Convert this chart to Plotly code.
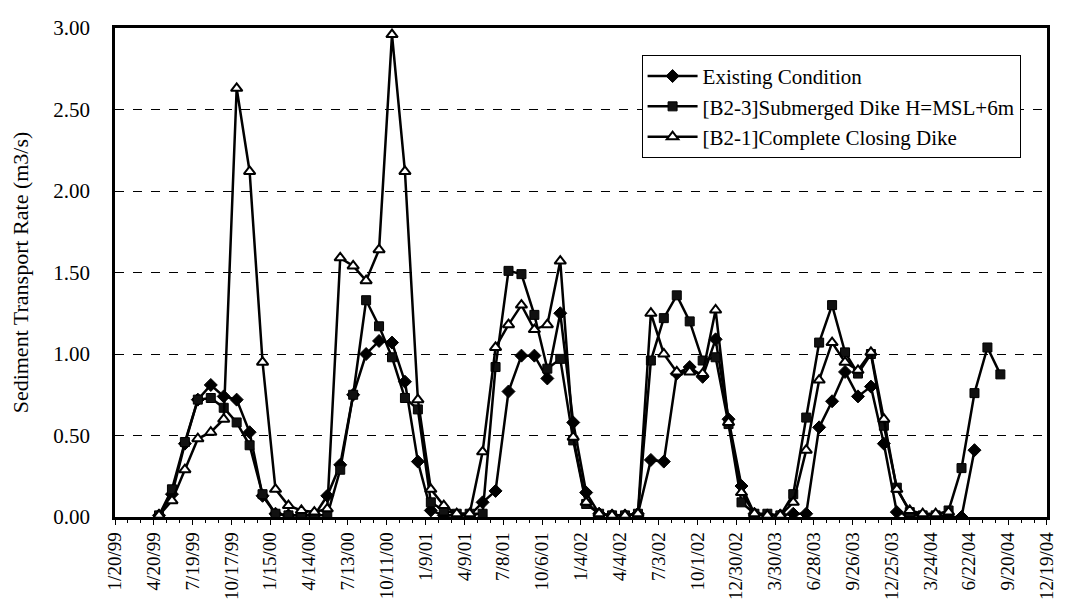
import pandas as pd
import plotly.graph_objects as go

# sample dates: every 30 days starting early May 1999
start_date = "1999-05-02"
n_points = 66
dates = pd.date_range(start_date, periods=n_points, freq="30D")

existing = [0.01, 0.14, 0.45, 0.72, 0.81, 0.74, 0.72, 0.52, 0.13, 0.02,
            0.01, 0.01, 0.01, 0.13, 0.32, 0.75, 1.00, 1.08, 1.07, 0.83,
            0.34, 0.04, 0.01, 0.01, 0.01, 0.09, 0.16, 0.77, 0.99, 0.99,
            0.85, 1.25, 0.58, 0.15, 0.02, 0.01, 0.01, 0.02, 0.35, 0.34,
            0.88, 0.92, 0.86, 1.09, 0.60, 0.19, 0.02, 0.01, 0.01, 0.02,
            0.02, 0.55, 0.71, 0.89, 0.74, 0.80, 0.45, 0.03, 0.01, 0.01,
            0.01, 0.00, 0.00, 0.41]

b2_3 = [0.01, 0.17, 0.46, 0.72, 0.73, 0.67, 0.58, 0.44, 0.14, 0.02,
        0.01, 0.01, 0.01, 0.01, 0.29, 0.75, 1.33, 1.17, 0.98, 0.73,
        0.66, 0.09, 0.04, 0.02, 0.02, 0.02, 0.92, 1.51, 1.49, 1.24,
        0.91, 0.97, 0.47, 0.08, 0.02, 0.01, 0.01, 0.02, 0.96, 1.22,
        1.36, 1.20, 0.96, 0.98, 0.57, 0.09, 0.02, 0.02, 0.01, 0.14,
        0.61, 1.07, 1.30, 1.01, 0.88, 1.00, 0.56, 0.18, 0.03, 0.01,
        0.01, 0.04, 0.30, 0.76, 1.04, 0.875]

b2_1 = [0.01, 0.10, 0.29, 0.48, 0.52, 0.60, 2.63, 2.12, 0.95, 0.17,
        0.07, 0.04, 0.03, 0.05, 1.59, 1.54, 1.45, 1.64, 2.96, 2.12,
        0.72, 0.17, 0.07, 0.02, 0.02, 0.40, 1.04, 1.18, 1.30, 1.15,
        1.18, 1.57, 0.49, 0.09, 0.02, 0.01, 0.01, 0.02, 1.25, 1.00,
        0.89, 0.89, 0.88, 1.27, 0.58, 0.15, 0.02, 0.01, 0.01, 0.09,
        0.41, 0.84, 1.07, 0.95, 0.90, 1.01, 0.60, 0.17, 0.04, 0.02,
        0.02, 0.03]

names = ["Existing Condition",
         "[B2-3]Submerged Dike H=MSL+6m",
         "[B2-1]Complete Closing Dike"]

tick_dates = pd.date_range("1999-01-20", periods=25, freq="90D")
tick_labels = ["1/20/99", "4/20/99", "7/19/99", "10/17/99", "1/15/00", "4/14/00",
               "7/13/00", "10/11/00", "1/9/01", "4/9/01", "7/8/01", "10/6/01",
               "1/4/02", "4/4/02", "7/3/02", "10/1/02", "12/30/02", "3/30/03",
               "6/28/03", "9/26/03", "12/25/03", "3/24/04", "6/22/04", "9/20/04",
               "12/19/04"]

y_ticks = [0, 0.5, 1.0, 1.5, 2.0, 2.5, 3.0]

font_family = "Liberation Serif, Times New Roman, serif"

fig = go.Figure()
fig.add_trace(go.Scatter(
    x=dates[:len(existing)], y=existing, name=names[0], mode="lines+markers",
    line=dict(color="black", width=2.5),
    marker=dict(symbol="diamond", size=10, color="black",
                line=dict(color="black", width=1))))
fig.add_trace(go.Scatter(
    x=dates[:len(b2_3)], y=b2_3, name=names[1], mode="lines+markers",
    line=dict(color="black", width=2.5),
    marker=dict(symbol="square", size=9, color="#111111",
                line=dict(color="black", width=1))))
fig.add_trace(go.Scatter(
    x=dates[:len(b2_1)], y=b2_1, name=names[2], mode="lines+markers",
    line=dict(color="black", width=2.5),
    marker=dict(symbol="triangle-up", size=10, color="white",
                line=dict(color="black", width=2))))

x_end = tick_dates[-1] + pd.Timedelta(hours=2)

fig.update_layout(
    width=1057, height=600,
    margin=dict(l=98, r=8, t=12, b=84),
    paper_bgcolor="white", plot_bgcolor="white",
    font=dict(family=font_family, size=20, color="black"),
    showlegend=True,
    legend=dict(x=0.565, y=0.945, xanchor="left", yanchor="top",
                bgcolor="white", bordercolor="black", borderwidth=1,
                font=dict(family=font_family, size=21, color="black"),
                itemwidth=50, tracegroupgap=0),
)

fig.update_xaxes(
    type="date",
    range=[tick_dates[0], x_end],
    tickmode="array", tickvals=list(tick_dates), ticktext=tick_labels,
    tickangle=-90, ticks="outside", ticklen=5, tickwidth=1, tickcolor="black",
    tickfont=dict(family=font_family, size=19),
    minor=dict(ticks="outside", ticklen=3, tickcolor="black",
               dtick=30 * 86400000, tick0="1999-01-20", showgrid=False),
    showline=True, linecolor="black", linewidth=2.5, mirror=True,
    showgrid=False, zeroline=False,
)

fig.update_yaxes(
    range=[0, 3.0],
    tickmode="array", tickvals=y_ticks, ticktext=[f"{v:.2f}" for v in y_ticks],
    tickfont=dict(family=font_family, size=21),
    ticks="", ticklabelstandoff=18,
    title=dict(text="Sediment Transport Rate (m3/s)",
               font=dict(family=font_family, size=22), standoff=22),
    showline=True, linecolor="black", linewidth=2.5, mirror=True,
    showgrid=True, gridcolor="black", gridwidth=1, griddash="dash",
    zeroline=False,
)

fig.write_html("out.html")
